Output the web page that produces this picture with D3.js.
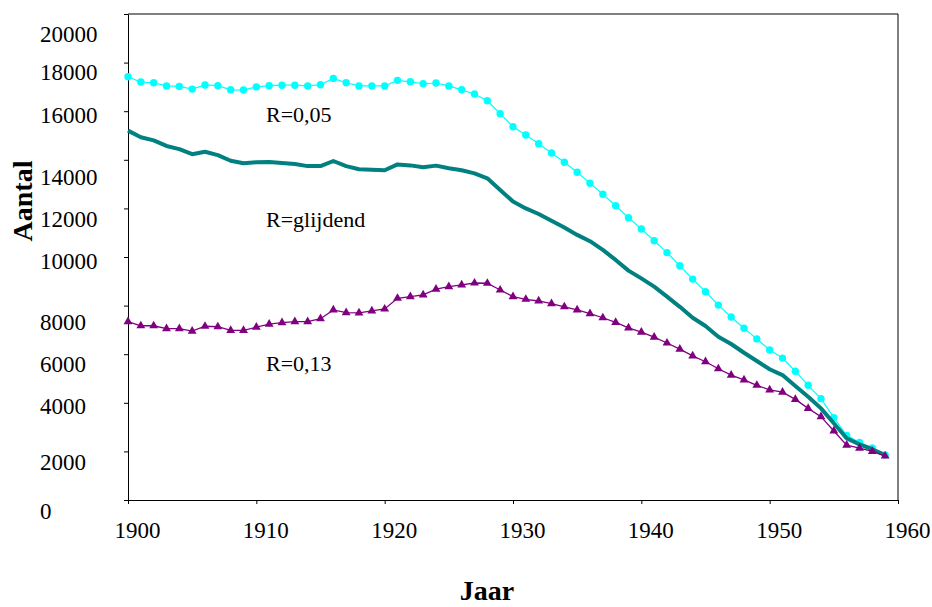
<!DOCTYPE html>
<html>
<head>
<meta charset="utf-8">
<script src="https://cdn.jsdelivr.net/npm/d3@7"></script>
<style>
  body { margin: 0; background: #fff; }
  text { font-family: "Liberation Serif", "Times New Roman", serif; }
</style>
</head>
<body>
<div id="wrap"></div>
<script>
var w = 932;
var h = 607;

// years 1900..1959
var years = d3.range(1900, 1960);

var r005 = [17420,17200,17170,17040,17020,16910,17080,17050,16880,16870,
            17000,17050,17070,17070,17040,17090,17350,17170,17040,17040,
            17040,17270,17210,17130,17160,17040,16880,16710,16430,15900,
            15360,15020,14660,14280,13900,13490,13040,12580,12110,11620,
            11150,10670,10180,9640,9090,8570,8020,7530,7070,6630,
            6170,5840,5300,4720,4170,3390,2660,2370,2140,1850];

var glijdend = [15200,14930,14800,14570,14440,14230,14330,14190,13960,13860,
                13900,13910,13870,13830,13740,13740,13950,13740,13610,13590,
                13570,13810,13770,13690,13760,13650,13570,13440,13240,12760,
                12280,12000,11770,11490,11210,10910,10650,10290,9880,9440,
                9120,8780,8370,7950,7500,7160,6720,6420,6060,5720,
                5380,5140,4690,4250,3770,3160,2540,2290,2090,1850];

var r013 = [7340,7170,7170,7050,7050,6950,7150,7130,6980,6980,
            7110,7240,7300,7340,7340,7460,7820,7710,7700,7780,
            7860,8300,8370,8440,8680,8780,8850,8930,8920,8640,
            8370,8260,8190,8080,7950,7820,7670,7500,7310,7080,
            6910,6700,6460,6210,5930,5690,5400,5140,4940,4720,
            4530,4440,4140,3770,3430,2840,2260,2130,2000,1810];

var yTicks = d3.range(0, 20001, 2000);
var xTicks = [1900, 1910, 1920, 1930, 1940, 1950, 1960];

// the labels on the y axis sit a bit off their ticks, as in the original
var yLabelShift = [18, 18, 11, 17, 24, 11, 18, 25, 11, 17, 27];

var pLeft = 128, pRight = 898, pTop = 14, pBottom = 500;

var svg = d3.select("#wrap").append("svg").attr("width", w).attr("height", h);

var x = d3.scaleLinear().domain([1900, 1960]).range([pLeft, pRight]);
var y = d3.scaleLinear().domain([0, 20000]).range([pBottom, pTop]);

// frame: top and right border
svg.append("path")
  .attr("d", "M" + pLeft + "," + pTop + "H" + pRight + "V" + pBottom)
  .attr("fill", "none").attr("stroke", "#000").attr("stroke-width", 1);

var gy = svg.append("g").attr("transform", "translate(" + pLeft + ",0)")
  .call(d3.axisLeft(y).tickValues(yTicks).tickSize(4).tickSizeOuter(0).tickFormat(d3.format("d")));
gy.selectAll("text")
  .attr("x", 40 - pLeft)
  .attr("dy", null)
  .attr("y", function(d, i) { return yLabelShift[i]; })
  .attr("text-anchor", "start")
  .style("font-family", "Liberation Serif")
  .style("font-size", "23px")
  .attr("fill", "#000");

var gx = svg.append("g").attr("transform", "translate(0," + pBottom + ")")
  .call(d3.axisBottom(x).tickValues(xTicks).tickSize(4).tickSizeOuter(0).tickFormat(d3.format("d")));
gx.selectAll("text")
  .attr("x", 9)
  .attr("dy", null)
  .attr("y", 38)
  .style("font-family", "Liberation Serif")
  .style("font-size", "23px")
  .attr("fill", "#000");

svg.selectAll(".domain").attr("stroke", "#000");
svg.selectAll(".tick line").attr("stroke", "#000");

var line = function(vals) {
  return d3.line()
    .x(function(d, i) { return x(years[i]); })
    .y(function(d) { return y(d); })(vals);
};

// R=0,05
svg.append("path").attr("d", line(r005))
  .attr("fill", "none").attr("stroke", "#00ffff").attr("stroke-width", 1.2);
svg.selectAll("circle.r005").data(r005).enter().append("circle")
  .attr("class", "r005")
  .attr("cx", function(d, i) { return x(years[i]); })
  .attr("cy", function(d) { return y(d); })
  .attr("r", 3.7)
  .attr("fill", "#00ffff");

// R=glijdend
svg.append("path").attr("d", line(glijdend))
  .attr("fill", "none").attr("stroke", "#008080").attr("stroke-width", 4)
  .attr("stroke-linejoin", "round");

// R=0,13
svg.append("path").attr("d", line(r013))
  .attr("fill", "none").attr("stroke", "#800080").attr("stroke-width", 1.3);
var tri = d3.symbol().type(d3.symbolTriangle).size(34);
svg.selectAll("path.r013").data(r013).enter().append("path")
  .attr("class", "r013")
  .attr("d", tri)
  .attr("transform", function(d, i) { return "translate(" + x(years[i]) + "," + y(d) + ")"; })
  .attr("fill", "#800080");

// series labels
var labels = [["R=0,05", 122], ["R=glijdend", 226.5], ["R=0,13", 371]];
svg.selectAll("text.lab").data(labels).enter().append("text")
  .attr("class", "lab")
  .attr("x", 266)
  .attr("y", function(d) { return d[1]; })
  .style("font-size", "22px")
  .text(function(d) { return d[0]; });

// axis titles
svg.append("text")
  .attr("transform", "translate(32,201) rotate(-90)")
  .attr("text-anchor", "middle")
  .style("font-size", "28px").style("font-weight", "bold")
  .text("Aantal");

svg.append("text")
  .attr("x", 487).attr("y", 600)
  .attr("text-anchor", "middle")
  .style("font-size", "28px").style("font-weight", "bold")
  .text("Jaar");
</script>
</body>
</html>
